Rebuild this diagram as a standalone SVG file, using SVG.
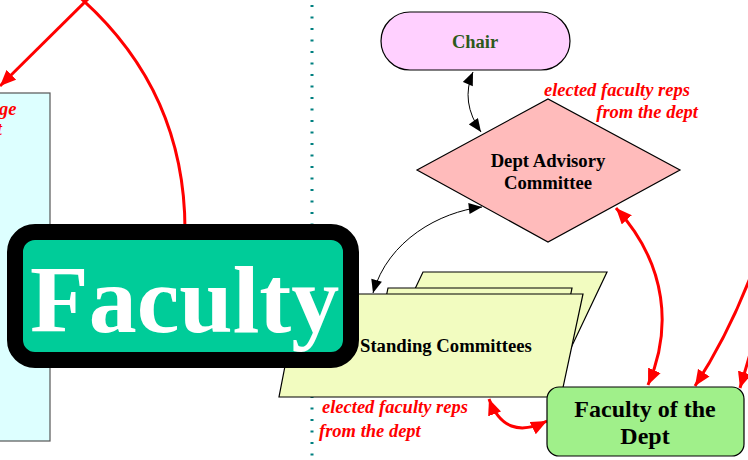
<svg xmlns="http://www.w3.org/2000/svg" width="748" height="460" viewBox="0 0 748 460">
<style>
.lbl{font-family:"Liberation Serif","Times New Roman",serif;font-weight:bold;fill:#000}
.red{font-family:"Liberation Serif","Times New Roman",serif;font-weight:bold;font-style:italic;font-size:18.5px;fill:#ff0000}
.bk{fill:none;stroke:#000;stroke-width:1}
.rd{fill:none;stroke:#ff0000;stroke-width:3}
.nb{stroke:#000;stroke-width:1.2}
</style>
<defs>
<marker id="ab" viewBox="0 0 12 10" refX="12" refY="5" markerWidth="14" markerHeight="11" markerUnits="userSpaceOnUse" orient="auto-start-reverse">
<path d="M0,0 L12,5 L0,10 Z" fill="#000"/>
</marker>
<marker id="ar" viewBox="0 0 14 12" refX="14" refY="6" markerWidth="16" markerHeight="14" markerUnits="userSpaceOnUse" orient="auto-start-reverse">
<path d="M0,0 L14,6 L0,12 Z" fill="#ff0000"/>
</marker>
</defs>
<rect width="748" height="460" fill="#fff"/>
<line x1="312" y1="5" x2="312" y2="460" stroke="#008080" stroke-width="3" stroke-dasharray="2 9.5"/>
<g id="left-box">
<rect x="-2" y="93" width="52" height="348" fill="#ddffff" stroke="#555" stroke-width="1.2"/>
<text class="red" x="-1" y="115">ge</text>
<text class="red" x="2" y="135" text-anchor="end">t</text>
</g>
<g id="connectors">
<path class="rd" d="M95,-8 L0,86" marker-end="url(#ar)"/>
<path class="rd" d="M76,-6 C135,45 185,120 185,230"/>
<path class="bk" d="M473,72 Q460,102 481,132" marker-start="url(#ab)" marker-end="url(#ab)"/>
<path class="bk" d="M482,207 C440,212 388,240 373,293" marker-start="url(#ab)" marker-end="url(#ab)"/>
<path class="rd" d="M616,208 C668,265 672,330 648,385" marker-start="url(#ar)" marker-end="url(#ar)"/>
<path class="rd" d="M762,245 Q735,325 695,386" marker-end="url(#ar)"/>
<path class="rd" d="M754,340 Q746,368 740,388" marker-end="url(#ar)"/>
<path class="rd" d="M489,399 Q505,442 547,421" marker-start="url(#ar)" marker-end="url(#ar)"/>
</g>
<g id="chair">
<rect x="381" y="12" width="189" height="58" rx="29" fill="#ffd0ff" class="nb"/>
<text class="lbl" x="475" y="48" text-anchor="middle" font-size="18.5" style="fill:#2d5a1b">Chair</text>
</g>
<g id="dept-advisory">
<polygon points="417,170 548,99 680,170 548,242" fill="#ffbbbb" class="nb"/>
<text class="lbl" x="548" y="167" text-anchor="middle" font-size="18.7">Dept Advisory</text>
<text class="lbl" x="548" y="189" text-anchor="middle" font-size="18.7">Committee</text>
<text class="red" x="544" y="96">elected faculty reps</text>
<text class="red" x="698" y="118" text-anchor="end">from the dept</text>
</g>
<g id="standing">
<polygon points="423,272 607,272 570,350 386,350" fill="#f2fcc0" class="nb"/>
<polygon points="388,288 572,288 555,370 371,370" fill="#f2fcc0" class="nb"/>
<polygon points="299,294 583,294 561,397 279,397" fill="#f2fcc0" class="nb"/>
<text class="lbl" x="360" y="352" font-size="18.7">Standing Committees</text>
<text class="red" x="322" y="413">elected faculty reps</text>
<text class="red" x="319" y="437">from the dept</text>
</g>
<g id="faculty-title">
<rect x="15" y="232" width="336" height="128" rx="20" fill="#00cc99" stroke="#000" stroke-width="16"/>
<text x="30" y="332" font-family="'Liberation Serif','Times New Roman',serif" font-weight="bold" font-size="96" fill="#fff">Faculty</text>
</g>
<g id="faculty-dept">
<rect x="547" y="387" width="197" height="69" rx="12" fill="#a0f08a" class="nb"/>
<text class="lbl" x="645" y="417" text-anchor="middle" font-size="24">Faculty of the</text>
<text class="lbl" x="645" y="444" text-anchor="middle" font-size="24">Dept</text>
</g>
</svg>
